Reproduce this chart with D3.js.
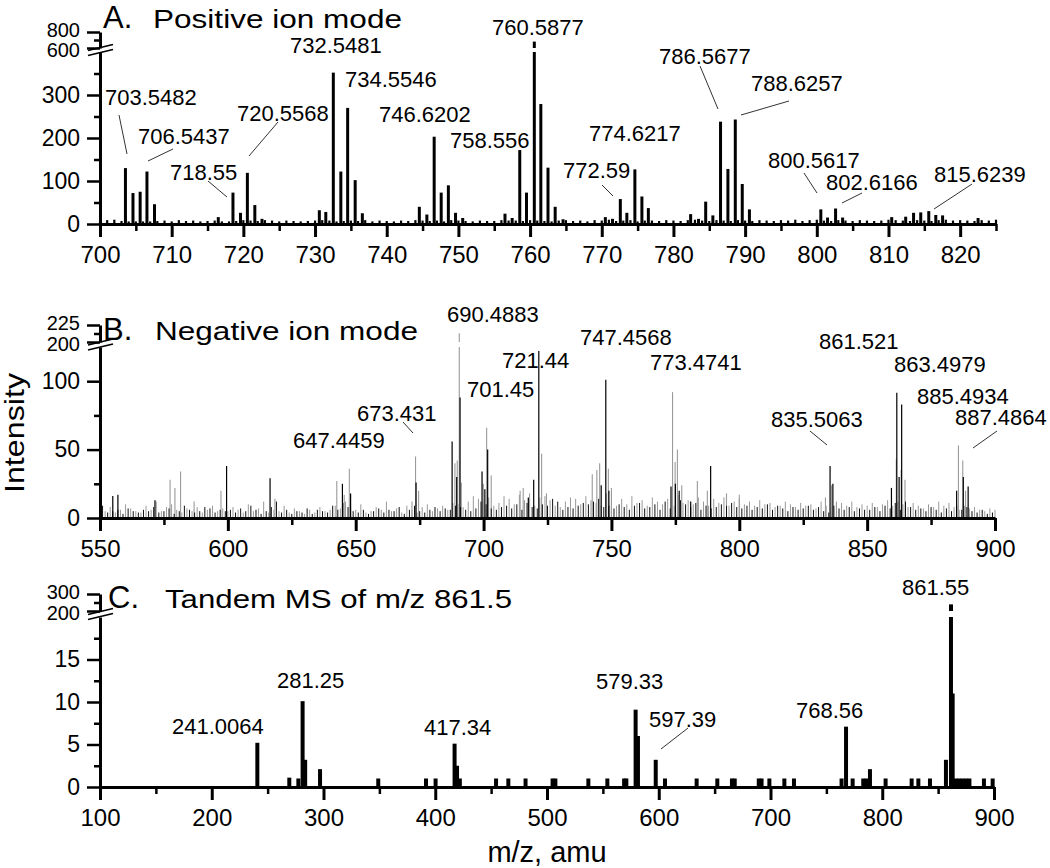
<!DOCTYPE html>
<html><head><meta charset="utf-8">
<script src="https://cdn.jsdelivr.net/npm/d3@7"></script>
<style>
body{margin:0;background:#fff;}
svg text{font-family:"Liberation Sans",Arial,sans-serif;fill:#000;}
</style></head><body>
<svg id="chart" width="1050" height="868"></svg>
<script>
// ---------------- DATA ----------------
// Panel A: positive ion mode peaks [m/z, intensity]
const posPeaks = [
  [703.55,130],[704.6,72],[705.6,75],[706.55,122],[707.6,46],
  [716.5,16],[718.55,73],[719.6,26],[720.56,119],[721.6,44],[722.6,12],
  [730.6,32],[731.5,28],[732.55,352],[733.6,122],[734.55,270],[735.6,102],[736.6,25],
  [744.55,40],[745.6,22],[746.62,203],[747.6,73],[748.6,90],[749.6,26],[750.6,14],
  [756.5,24],[757.5,14],[758.56,172],[759.5,73],[760.59,680],[761.5,279],[762.5,131],[763.5,40],[764.6,11],
  [770.5,16],[771.5,12],[772.59,58],[773.5,26],[774.62,127],[775.6,64],[776.5,37],
  [782.4,23],[783.5,12],[784.5,52],[785.5,20],[786.57,238],[787.6,128],[788.63,243],[789.6,93],[790.6,34],
  [800.56,34],[801.5,15],[802.62,36],[803.6,15],
  [810.45,16],[812.4,17],[813.5,26],[814.5,27],[815.62,30],[816.6,21],[817.55,20],[822.5,14]
];
// Panel A baseline noise, one value per integer m/z starting at 700
const posNoiseStart = 700;
const posNoise = [
  6,9,10,7,6,6,6,6,7,8,6,9,7,8,6,7,8,6,6,7,9,8,7,9,8,6,8,7,6,7,
  8,9,8,6,7,8,7,9,6,8,7,6,8,7,9,8,7,8,6,9,8,7,6,8,7,7,9,8,8,7,
  9,8,7,6,8,9,7,8,6,9,8,10,7,8,9,6,8,8,7,9,8,7,9,10,8,7,9,8,7,9,
  8,7,9,8,7,9,8,10,7,9,10,8,7,9,8,7,9,8,7,8,10,9,8,7,9,8,7,9,10,8,
  9,8,7,9,8,10
];
const posLabels = ["703.5482","706.5437","718.55","720.5568","732.5481","734.5546","746.6202","758.556",
  "760.5877","772.59","774.6217","786.5677","788.6257","800.5617","802.6166","815.6239"];
const posXTicks = [700,710,720,730,740,750,760,770,780,790,800,810,820];
const posXMinor = [705,715,725,735,745,755,765,775,785,795,805,815,825];
const posYLowTicks = [0,100,200,300];
const posYLowMinor = [50,150,250,350];
const posYHighTicks = [600,800];
const posYHighMinor = [700];

// Panel B: negative ion mode, two overlaid traces (black and grey)
const negBlackPeaks = [
  [555,16],[557,17],[571.5,13],[599.5,38],[616.5,29],[644.8,25],[648,18],
  [673.6,26],[687.7,56],[689.5,30],[690.8,88],[699.4,34],[700.5,21],[701.6,50],
  [717.5,15],[719.6,28],[721.6,122],
  [746,24],[747.8,101],[749,20],
  [773.3,23],[775,25],[776.5,20],[781,12],[788.8,38],
  [835.5,38],[836.6,25],[859.5,22],[861.6,91.5],[862.5,30],[863.5,83],
  [885,20],[887.6,30],[889.5,23]
];
const negGrayPeaks = [
  [577.4,28],[579.3,22],[581.5,34],[586.8,12],[597.3,20],[618.4,14],[642.6,27],[645.5,17],[647.5,36],
  [672,12],[673.4,45],[674.6,20],
  [688.8,40],[689.7,42],[690.5,213],[691.3,26],
  [699.9,25],[701.2,66],[703,31],
  [714.3,20],[715.5,22],[722.7,47],[724.6,18],
  [742.5,32],[744.3,35],[745.4,40],[748.8,36],[750,22],
  [773.9,92],[774.9,41],[775.8,50],[777.5,24],[783.6,27],[787.5,20],
  [795,18],[800,17],
  [833.7,15],[836.1,24],[838,12],
  [861.4,43],[863.3,35],[864.8,28],
  [885.7,53],[887.4,42],[888.5,20]
];
// Panel B noise, every 2 m/z (black from 551, grey from 550)
const negBlackNoiseStart = 551;
const negBlackNoise = [
  9,4,5,6,3,7,5,4,6,5,8,4,5,7,3,5,9,6,4,5,8,7,4,6,5,
  6,4,7,5,9,6,3,5,8,12,4,6,3,5,4,7,3,6,5,4,9,6,11,8,5,
  4,6,3,5,7,4,6,5,8,3,6,9,5,4,6,8,5,7,6,9,8,6,5,7,12,
  10,7,6,8,9,7,10,6,11,8,7,10,9,14,12,6,8,7,9,11,10,12,14,8,9,
  7,10,8,6,9,11,7,8,10,6,12,7,9,13,10,8,11,6,9,7,8,10,9,11,8,
  7,9,6,8,7,10,6,9,7,5,8,6,7,9,6,8,5,4,9,7,6,8,5,7,6,
  6,8,5,9,7,11,6,12,8,6,7,5,8,6,4,7,5,9,6,8,5,4,6,3,4
];
const negGrayNoiseStart = 550;
const negGrayNoise = [
  11,5,8,4,6,10,7,5,4,9,6,12,5,8,10,6,4,7,5,8,4,6,9,5,7,
  5,8,6,4,10,5,7,12,4,6,5,9,4,7,5,3,6,4,8,5,6,9,7,12,8,
  6,10,4,5,8,6,12,5,7,4,9,6,4,8,10,5,7,9,6,11,10,8,12,16,14,
  12,15,9,11,16,14,10,17,13,18,9,15,16,13,9,8,12,15,14,10,16,13,11,9,18,
  12,9,14,10,16,11,13,9,15,12,10,14,9,17,11,13,10,15,12,9,14,11,15,9,12,
  14,10,12,9,13,10,11,8,9,12,10,8,11,9,10,7,12,9,8,10,11,9,12,8,10,
  9,11,8,10,13,9,12,10,8,11,9,7,10,8,12,9,11,8,6,9,7,8,6,5,7,
  6
];
const negLabels = ["647.4459","673.431","690.4883","701.45","721.44","747.4568","773.4741",
  "835.5063","861.521","863.4979","885.4934","887.4864"];
const negXTicks = [550,600,650,700,750,800,850,900];
const negXMinor = [575,625,675,725,775,825,875];
const negYLowTicks = [0,50,100];
const negYLowMinor = [25,75];
const negYHighTicks = [200,225];
const negYHighMinor = [212.5];

// Panel C: tandem MS of m/z 861.5
const msmsPeaks = [
  [240.8,5.2],[269.4,1.1],[277.5,1],[281.3,10.1],[283.6,3.2],[296.9,2.1],[349,1],
  [391.7,1],[400.3,1],[417.3,5.1],[419.5,2.5],[422,1],[454.4,1],[465.4,1],[480.8,1],[505,1],[507.5,1],
  [537,1],[554,1],[569,1],[571,1],
  [579.3,9.1],[581.4,6],[597.3,3.2],[605.6,1],[633.9,1],[652.4,1],[665.5,1],[668,1],[689.5,1],[692,1],
  [699,1],[712.4,1],[721,1],
  [763.6,1],[767.6,7.1],[773.5,1],[783,1],[786,1],[789,2.1],[803,1],[826.3,1],[832.3,1],[842.7,1],
  [857,3.2],[861.5,239],[863,11],[866,1],[869,1],[872,1],[875,1],[878,1],[891,1],[898.8,1]
];
const msmsLabels = ["241.0064","281.25","417.34","579.33","597.39","768.56","861.55"];
const msXTicks = [100,200,300,400,500,600,700,800,900];
const msXMinor = [150,250,350,450,550,650,750,850];
const msYLowTicks = [0,5,10,15];
const msYLowMinor = [2.5,7.5,12.5,17.5];
const msYHighTicks = [200,300];
const msYHighMinor = [250];

const titles = [["A.","Positive ion mode"],["B.","Negative ion mode"],["C.","Tandem MS of m/z 861.5"]];
const yAxisTitle = "Intensity";
const xAxisTitle = "m/z, amu";

// ---------------- LAYOUT ----------------
const FONT = '"Liberation Sans", Arial, sans-serif';
const svg = d3.select("#chart");

const panels = [
  { xDomain:[700,825], xRange:[100,996], loDomain:[0,400], loRange:[224,52], hiDomain:[600,800], hiRange:[48,32],
    xTicks:posXTicks, xMinor:posXMinor, yLT:posYLowTicks, yLM:posYLowMinor, yHT:posYHighTicks, yHM:posYHighMinor,
    title:{lx:103, tx:153, y:28, tl:249},
    labels: posLabels,
    labelPos: [[105,105,[119,115,127,154]],[138,144,[173,149,148,161]],[170,180,[208,181,227,197]],[237,121,[278,122,249,156]],
      [290,53],[345,87],[379,122],[450,148],[492,35],[563,178,[602,185,613,196]],[589,141],
      [659,64,[700,66,718,109]],[751,91,[789,101,741,115]],[768,168,[804,173,817,193]],[826,190,[862,193,842,203]],
      [934,182,[972,184,934,209]]] },
  { xDomain:[550,900], xRange:[100,995], loDomain:[0,125], loRange:[518,347], hiDomain:[200,225], hiRange:[342,325],
    xTicks:negXTicks, xMinor:negXMinor, yLT:negYLowTicks, yLM:negYLowMinor, yHT:negYHighTicks, yHM:negYHighMinor,
    title:{lx:103, tx:155, y:340, tl:263},
    labels: negLabels,
    labelPos: [[293,448],[357,421,[403,422,413,433]],[447,322],[467,397],[502,368],[580,345],[650,370],
      [771,427,[810,431,827,445]],[819,349],[894,372],[917,404],[955,425,[997,431,973,448]]] },
  { xDomain:[100,900], xRange:[100,994], loDomain:[0,20], loRange:[787,617], hiDomain:[200,300], hiRange:[611,594],
    xTicks:msXTicks, xMinor:msXMinor, yLT:msYLowTicks, yLM:msYLowMinor, yHT:msYHighTicks, yHM:msYHighMinor,
    title:{lx:108, tx:165, y:608, tl:347},
    labels: msmsLabels,
    labelPos: [[172,734],[277,688],[424,735],[596,689],[649,727,[688,728,661,749]],[796,718],[902,595]] }
];

function scalesFor(p){
  return {
    x: d3.scaleLinear().domain(p.xDomain).range(p.xRange),
    lo: d3.scaleLinear().domain(p.loDomain).range(p.loRange),
    hi: d3.scaleLinear().domain(p.hiDomain).range(p.hiRange)
  };
}

function drawSticks(g, s, p, data, color, width){
  const top = p.loDomain[1];
  g.append("g").selectAll("line").data(data).join("line")
    .attr("x1", d => s.x(d[0])).attr("x2", d => s.x(d[0]))
    .attr("y1", s.lo(0)).attr("y2", d => s.lo(Math.min(d[1], top)))
    .attr("stroke", color).attr("stroke-width", width);
  g.append("g").selectAll("line").data(data.filter(d => d[1] > p.hiDomain[0])).join("line")
    .attr("x1", d => s.x(d[0])).attr("x2", d => s.x(d[0]))
    .attr("y1", s.hi(p.hiDomain[0])).attr("y2", d => s.hi(d[1]))
    .attr("stroke", color).attr("stroke-width", width);
}

function styleAxis(sel, w, fs){
  sel.attr("font-family", FONT).attr("font-size", fs || 23);
  sel.select(".domain").attr("stroke", "#000").attr("stroke-width", 3);
  sel.selectAll(".tick line").attr("stroke", "#000").attr("stroke-width", w);
  sel.selectAll(".tick text").attr("fill", "#000");
}

function drawAxes(g, s, p){
  const base = s.lo(0);
  // x axis
  const xa = g.append("g").attr("transform", `translate(0,${base})`)
    .call(d3.axisBottom(s.x).tickValues(p.xTicks).tickSize(13).tickSizeOuter(0).tickPadding(9).tickFormat(d3.format("d")));
  styleAxis(xa, 3, 24);
  const xm = g.append("g").attr("transform", `translate(0,${base})`)
    .call(d3.axisBottom(s.x).tickValues(p.xMinor).tickSize(7).tickSizeOuter(0).tickFormat(""));
  styleAxis(xm, 2.5); xm.select(".domain").remove();
  // y axis lower
  const x0 = p.xRange[0];
  const yl = g.append("g").attr("transform", `translate(${x0},0)`)
    .call(d3.axisLeft(s.lo).tickValues(p.yLT).tickSize(13).tickSizeOuter(0).tickPadding(7));
  styleAxis(yl, 2.5);
  const ylm = g.append("g").attr("transform", `translate(${x0},0)`)
    .call(d3.axisLeft(s.lo).tickValues(p.yLM).tickSize(6).tickSizeOuter(0).tickFormat(""));
  styleAxis(ylm, 2.5); ylm.select(".domain").remove();
  // y axis upper (smaller labels, as they sit tightly stacked)
  const yh = g.append("g").attr("transform", `translate(${x0},0)`)
    .call(d3.axisLeft(s.hi).tickValues(p.yHT).tickSize(13).tickSizeOuter(0).tickPadding(7));
  styleAxis(yh, 2.5, 20);
  yh.selectAll(".tick text").attr("dy", (d, i) => i === 0 ? "0.42em" : "0.22em");
  const yhm = g.append("g").attr("transform", `translate(${x0},0)`)
    .call(d3.axisLeft(s.hi).tickValues(p.yHM).tickSize(6).tickSizeOuter(0).tickFormat(""));
  styleAxis(yhm, 2.5); yhm.select(".domain").remove();
  // break marks
  const brk = (s.lo(p.loDomain[1]) + s.hi(p.hiDomain[0])) / 2;
  [-2.5, 2.5].forEach(o => {
    g.append("line").attr("x1", x0 - 12).attr("y1", brk + o + 3).attr("x2", x0 + 13).attr("y2", brk + o - 3)
      .attr("stroke", "#000").attr("stroke-width", 1.6);
  });
}

function drawLabels(g, p){
  p.labels.forEach((t, i) => {
    const lp = p.labelPos[i];
    g.append("text").attr("x", lp[0]).attr("y", lp[1]).attr("font-size", 22).text(t);
    if (lp[2]) {
      g.append("line").attr("x1", lp[2][0]).attr("y1", lp[2][1]).attr("x2", lp[2][2]).attr("y2", lp[2][3])
        .attr("stroke", "#333").attr("stroke-width", 1);
    }
  });
}

function drawTitle(g, p, t){
  g.append("text").attr("x", p.title.lx).attr("y", p.title.y).attr("font-size", 31).text(t[0]);
  g.append("text").attr("x", p.title.tx).attr("y", p.title.y).attr("font-size", 26)
    .attr("textLength", p.title.tl).attr("lengthAdjust", "spacingAndGlyphs").text(t[1]);
}

// Panel A
{
  const p = panels[0], s = scalesFor(p), g = svg.append("g");
  const noisePts = posNoise.map((v, i) => [posNoiseStart + i, v]);
  drawSticks(g, s, p, noisePts, "#000", 2.2);
  drawSticks(g, s, p, posPeaks, "#000", 3);
  drawAxes(g, s, p);
  drawLabels(g, p);
  drawTitle(g, p, titles[0]);
}
// Panel B
{
  const p = panels[1], s = scalesFor(p), g = svg.append("g");
  const grayNoise = negGrayNoise.map((v, i) => [negGrayNoiseStart + 2 * i, v]);
  const blackNoise = negBlackNoise.map((v, i) => [negBlackNoiseStart + 2 * i, v]);
  drawSticks(g, s, p, grayNoise, "#9a9a9a", 1);
  drawSticks(g, s, p, negGrayPeaks, "#9a9a9a", 1.1);
  drawSticks(g, s, p, blackNoise, "#111", 1);
  drawSticks(g, s, p, negBlackPeaks, "#000", 1.2);
  drawAxes(g, s, p);
  drawLabels(g, p);
  drawTitle(g, p, titles[1]);
}
// Panel C
{
  const p = panels[2], s = scalesFor(p), g = svg.append("g");
  drawSticks(g, s, p, msmsPeaks, "#000", 4);
  drawAxes(g, s, p);
  drawLabels(g, p);
  drawTitle(g, p, titles[2]);
}

// Axis titles
svg.append("text").attr("transform", "translate(24,433) rotate(-90)").attr("text-anchor", "middle")
  .attr("font-size", 28).attr("textLength", 120).attr("lengthAdjust", "spacingAndGlyphs").text(yAxisTitle);
svg.append("text").attr("x", 547).attr("y", 862).attr("text-anchor", "middle")
  .attr("font-size", 29).text(xAxisTitle);
</script>
</body></html>
